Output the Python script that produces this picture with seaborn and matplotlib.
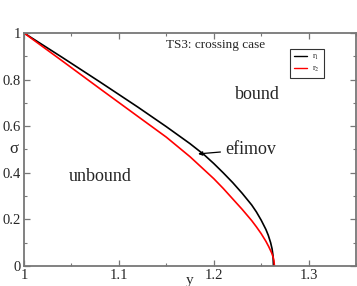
import pandas as pd
import seaborn as sns
import matplotlib.pyplot as plt

# values
y_r1 = [1.00, 1.04, 1.08, 1.12, 1.15, 1.175, 1.19, 1.20, 1.21, 1.22, 1.23,
        1.24, 1.245, 1.25, 1.255, 1.2575, 1.26, 1.2615, 1.2625, 1.263]
sigma_r1 = [1.00, 0.896, 0.79, 0.682, 0.598, 0.525, 0.477, 0.440, 0.400,
            0.358, 0.312, 0.262, 0.232, 0.197, 0.157, 0.132, 0.100, 0.074,
            0.045, 0.0]

y_r2 = [1.00, 1.04, 1.08, 1.12, 1.15, 1.175, 1.20, 1.21, 1.22, 1.23, 1.24,
        1.245, 1.25, 1.255, 1.258, 1.261, 1.2625, 1.2635, 1.264]
sigma_r2 = [1.00, 0.881, 0.761, 0.642, 0.553, 0.469, 0.375, 0.333, 0.288,
            0.243, 0.195, 0.168, 0.139, 0.106, 0.083, 0.057, 0.040, 0.024,
            0.0]

series_names = ["r$_1$", "r$_2$"]
x_ticks = [1, 1.1, 1.2, 1.3]
x_tick_labels = ["1", "1.1", "1.2", "1.3"]
y_ticks = [0, 0.2, 0.4, 0.6, 0.8, 1.0]
y_tick_labels = ["0", "0.2", "0.4", "0.6", "0.8", "1"]

df = pd.concat([
    pd.DataFrame({"y": y_r1, "sigma": sigma_r1, "curve": series_names[0]}),
    pd.DataFrame({"y": y_r2, "sigma": sigma_r2, "curve": series_names[1]}),
])

sns.set_style("ticks")
plt.rcParams["font.family"] = ["Liberation Serif", "DejaVu Serif"]
plt.rcParams["mathtext.fontset"] = "stix"

fig = plt.figure(figsize=(3.57, 2.86), dpi=100)
ax = fig.add_axes([0.0672, 0.07, 0.93, 0.8147])

sns.lineplot(data=df, x="y", y="sigma", hue="curve", sort=False,
             palette=["black", "red"], linewidth=1.2, ax=ax)

ax.set_xlim(1, 1.35)
ax.set_ylim(0, 1)
ax.set_xticks(x_ticks)
ax.set_xticklabels(x_tick_labels)
ax.set_yticks(y_ticks)
ax.set_yticklabels(y_tick_labels)
ax.set_xticks([1.05, 1.15, 1.25, 1.35], minor=True)
ax.set_yticks([0.1, 0.3, 0.5, 0.7, 0.9], minor=True)
ax.tick_params(which="both", direction="in", top=True, right=True,
               color="#777777", labelsize=10.5, pad=2)
ax.tick_params(which="major", length=4, width=0.9)
ax.tick_params(which="minor", length=2, width=0.8)
for s in ax.spines.values():
    s.set_color("#777777")
    s.set_linewidth(1.3)

ax.set_xlabel("y", fontsize=11)
ax.xaxis.set_label_coords(0.5, -0.035)
ax.set_ylabel("σ", fontsize=12, rotation=0, va="center")
ax.yaxis.set_label_coords(-0.03, 0.5)

ax.text(1.150, 0.948, "TS3: crossing case", fontsize=9.5, ha="left", va="center")
ax.text(1.246, 0.734, "bound", fontsize=13, ha="center", va="center")
ax.text(1.080, 0.382, "unbound", fontsize=13, ha="center", va="center")
ax.annotate("efimov", xy=(1.1835, 0.481), xytext=(1.212, 0.50),
            fontsize=13, ha="left", va="center",
            arrowprops=dict(arrowstyle="-|>", color="black", lw=0.9,
                            mutation_scale=6, shrinkA=1, shrinkB=0))

leg = ax.legend(loc="upper left", bbox_to_anchor=(0.801, 0.931),
                borderaxespad=0, fontsize=6, handlelength=1.6,
                frameon=True, fancybox=False, borderpad=0.5,
                labelspacing=0.3, handletextpad=0.6, title=None)
leg.get_frame().set_edgecolor("black")
leg.get_frame().set_linewidth(0.8)
for line in leg.get_lines():
    line.set_linewidth(1.0)

fig.savefig("out.png", dpi=100)
